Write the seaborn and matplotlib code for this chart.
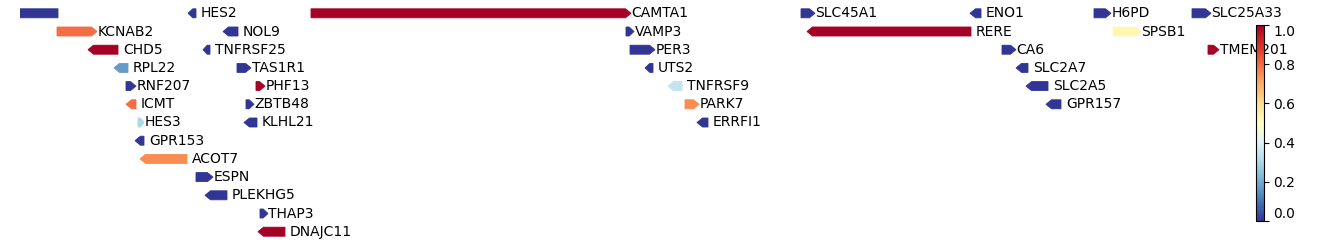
import matplotlib
matplotlib.use("Agg")
import matplotlib.pyplot as plt
from matplotlib.patches import Polygon
import seaborn as sns

sns.set_style("white")
plt.rcParams['font.family'] = ['DejaVu Sans']
plt.rcParams['text.color'] = 'black'
plt.rcParams['ytick.color'] = 'black'
plt.rcParams['axes.edgecolor'] = 'black'

# ---- data (positions in track units) ----
genes = ["", "HES2", "CAMTA1", "SLC45A1", "ENO1", "H6PD", "SLC25A33",
         "KCNAB2", "NOL9", "VAMP3", "RERE", "SPSB1",
         "CHD5", "TNFRSF25", "PER3", "CA6", "TMEM201",
         "RPL22", "TAS1R1", "UTS2", "SLC2A7",
         "RNF207", "PHF13", "TNFRSF9", "SLC2A5",
         "ICMT", "ZBTB48", "PARK7", "GPR157",
         "HES3", "KLHL21", "ERRFI1",
         "GPR153", "ACOT7", "ESPN", "PLEKHG5", "THAP3", "DNAJC11"]
starts = [5, 188, 311, 801, 970, 1094, 1192,
          57, 223, 626, 807, 1113,
          88, 203, 630, 1002, 1208,
          114, 237, 645, 1016,
          126, 256, 668, 1026,
          126, 246, 685, 1046,
          138, 244, 697,
          135, 140, 196, 205, 260, 258]
ends = [58, 196, 631, 815, 981, 1111, 1211,
        97, 238, 634, 971, 1141,
        118, 210, 655, 1016, 1219,
        128, 251, 653, 1028,
        136, 265, 682, 1048,
        136, 254, 699, 1061,
        144, 257, 708,
        144, 187, 213, 227, 268, 285]
strands = ["-", "-", "+", "+", "-", "+", "+",
           "+", "-", "+", "-", "+",
           "-", "-", "+", "+", "+",
           "-", "+", "-", "-",
           "+", "+", "-", "-",
           "-", "+", "+", "-",
           "+", "-", "-",
           "-", "-", "+", "-", "+", "-"]
values = [0.0, 0.0, 1.0, 0.0, 0.0, 0.0, 0.0,
          0.8, 0.0, 0.0, 1.0, 0.53,
          1.0, 0.0, 0.0, 0.0, 1.0,
          0.17, 0.0, 0.0, 0.0,
          0.0, 1.0, 0.34, 0.0,
          0.8, 0.0, 0.75, 0.0,
          0.3, 0.0, 0.0,
          0.0, 0.75, 0.0, 0.0, 0.0, 1.0]
tracks = [0, 0, 0, 0, 0, 0, 0,
          1, 1, 1, 1, 1,
          2, 2, 2, 2, 2,
          3, 3, 3, 3,
          4, 4, 4, 4,
          5, 5, 5, 5,
          6, 6, 6,
          7, 8, 9, 10, 11, 12]
cbar_ticks = [0.0, 0.2, 0.4, 0.6, 0.8, 1.0]

# ---- figure ----
W, H = 1338, 246
fig = plt.figure(figsize=(W / 100, H / 100), dpi=100)
x0 = 20
ax = fig.add_axes([x0 / W, 0, 1 - x0 / W, 1])
ax.set_xlim(x0, W)
ax.set_ylim(H, 0)
ax.axis("off")

cmap = sns.color_palette("RdYlBu_r", as_cmap=True)
norm = matplotlib.colors.Normalize(vmin=0, vmax=1)

row0, row_step = 13.3, 18.2
bar_h = 9.0
for name, s, e, st, v, t in zip(genes, starts, ends, strands, values, tracks):
    y = row0 + t * row_step
    L = e - s
    head = min(5.5, 0.6 * L)
    top, bot = y - bar_h / 2, y + bar_h / 2
    if st == "+":
        pts = [(s, top), (e - head, top), (e, y), (e - head, bot), (s, bot)]
        lx = e + 0.5
    else:
        pts = [(s, y), (s + head, top), (e, top), (e, bot), (s + head, bot)]
        lx = e + 5
    c = cmap(norm(v))
    ax.add_patch(Polygon(pts, closed=True, facecolor=c, edgecolor=c, lw=0.6))
    if name:
        ax.text(lx, y, name, ha="left", va="center", fontsize=10,
                color="black", clip_on=False)

# ---- colorbar ----
cax = fig.add_axes([1255.5 / W, (H - 221) / H, 8 / W, 196 / H])
sm = matplotlib.cm.ScalarMappable(norm=norm, cmap=cmap)
cb = fig.colorbar(sm, cax=cax, ticks=cbar_ticks)
cb.ax.set_yticklabels([f"{t:.1f}" for t in cbar_ticks])
cb.ax.tick_params(labelsize=10, length=3.5, width=0.8, colors="black")
cb.outline.set_linewidth(0.8)
cb.outline.set_edgecolor("black")
labs = cb.ax.get_yticklabels()
labs[0].set_va("bottom")
labs[-1].set_va("top")

fig.savefig("out.png", dpi=100)
